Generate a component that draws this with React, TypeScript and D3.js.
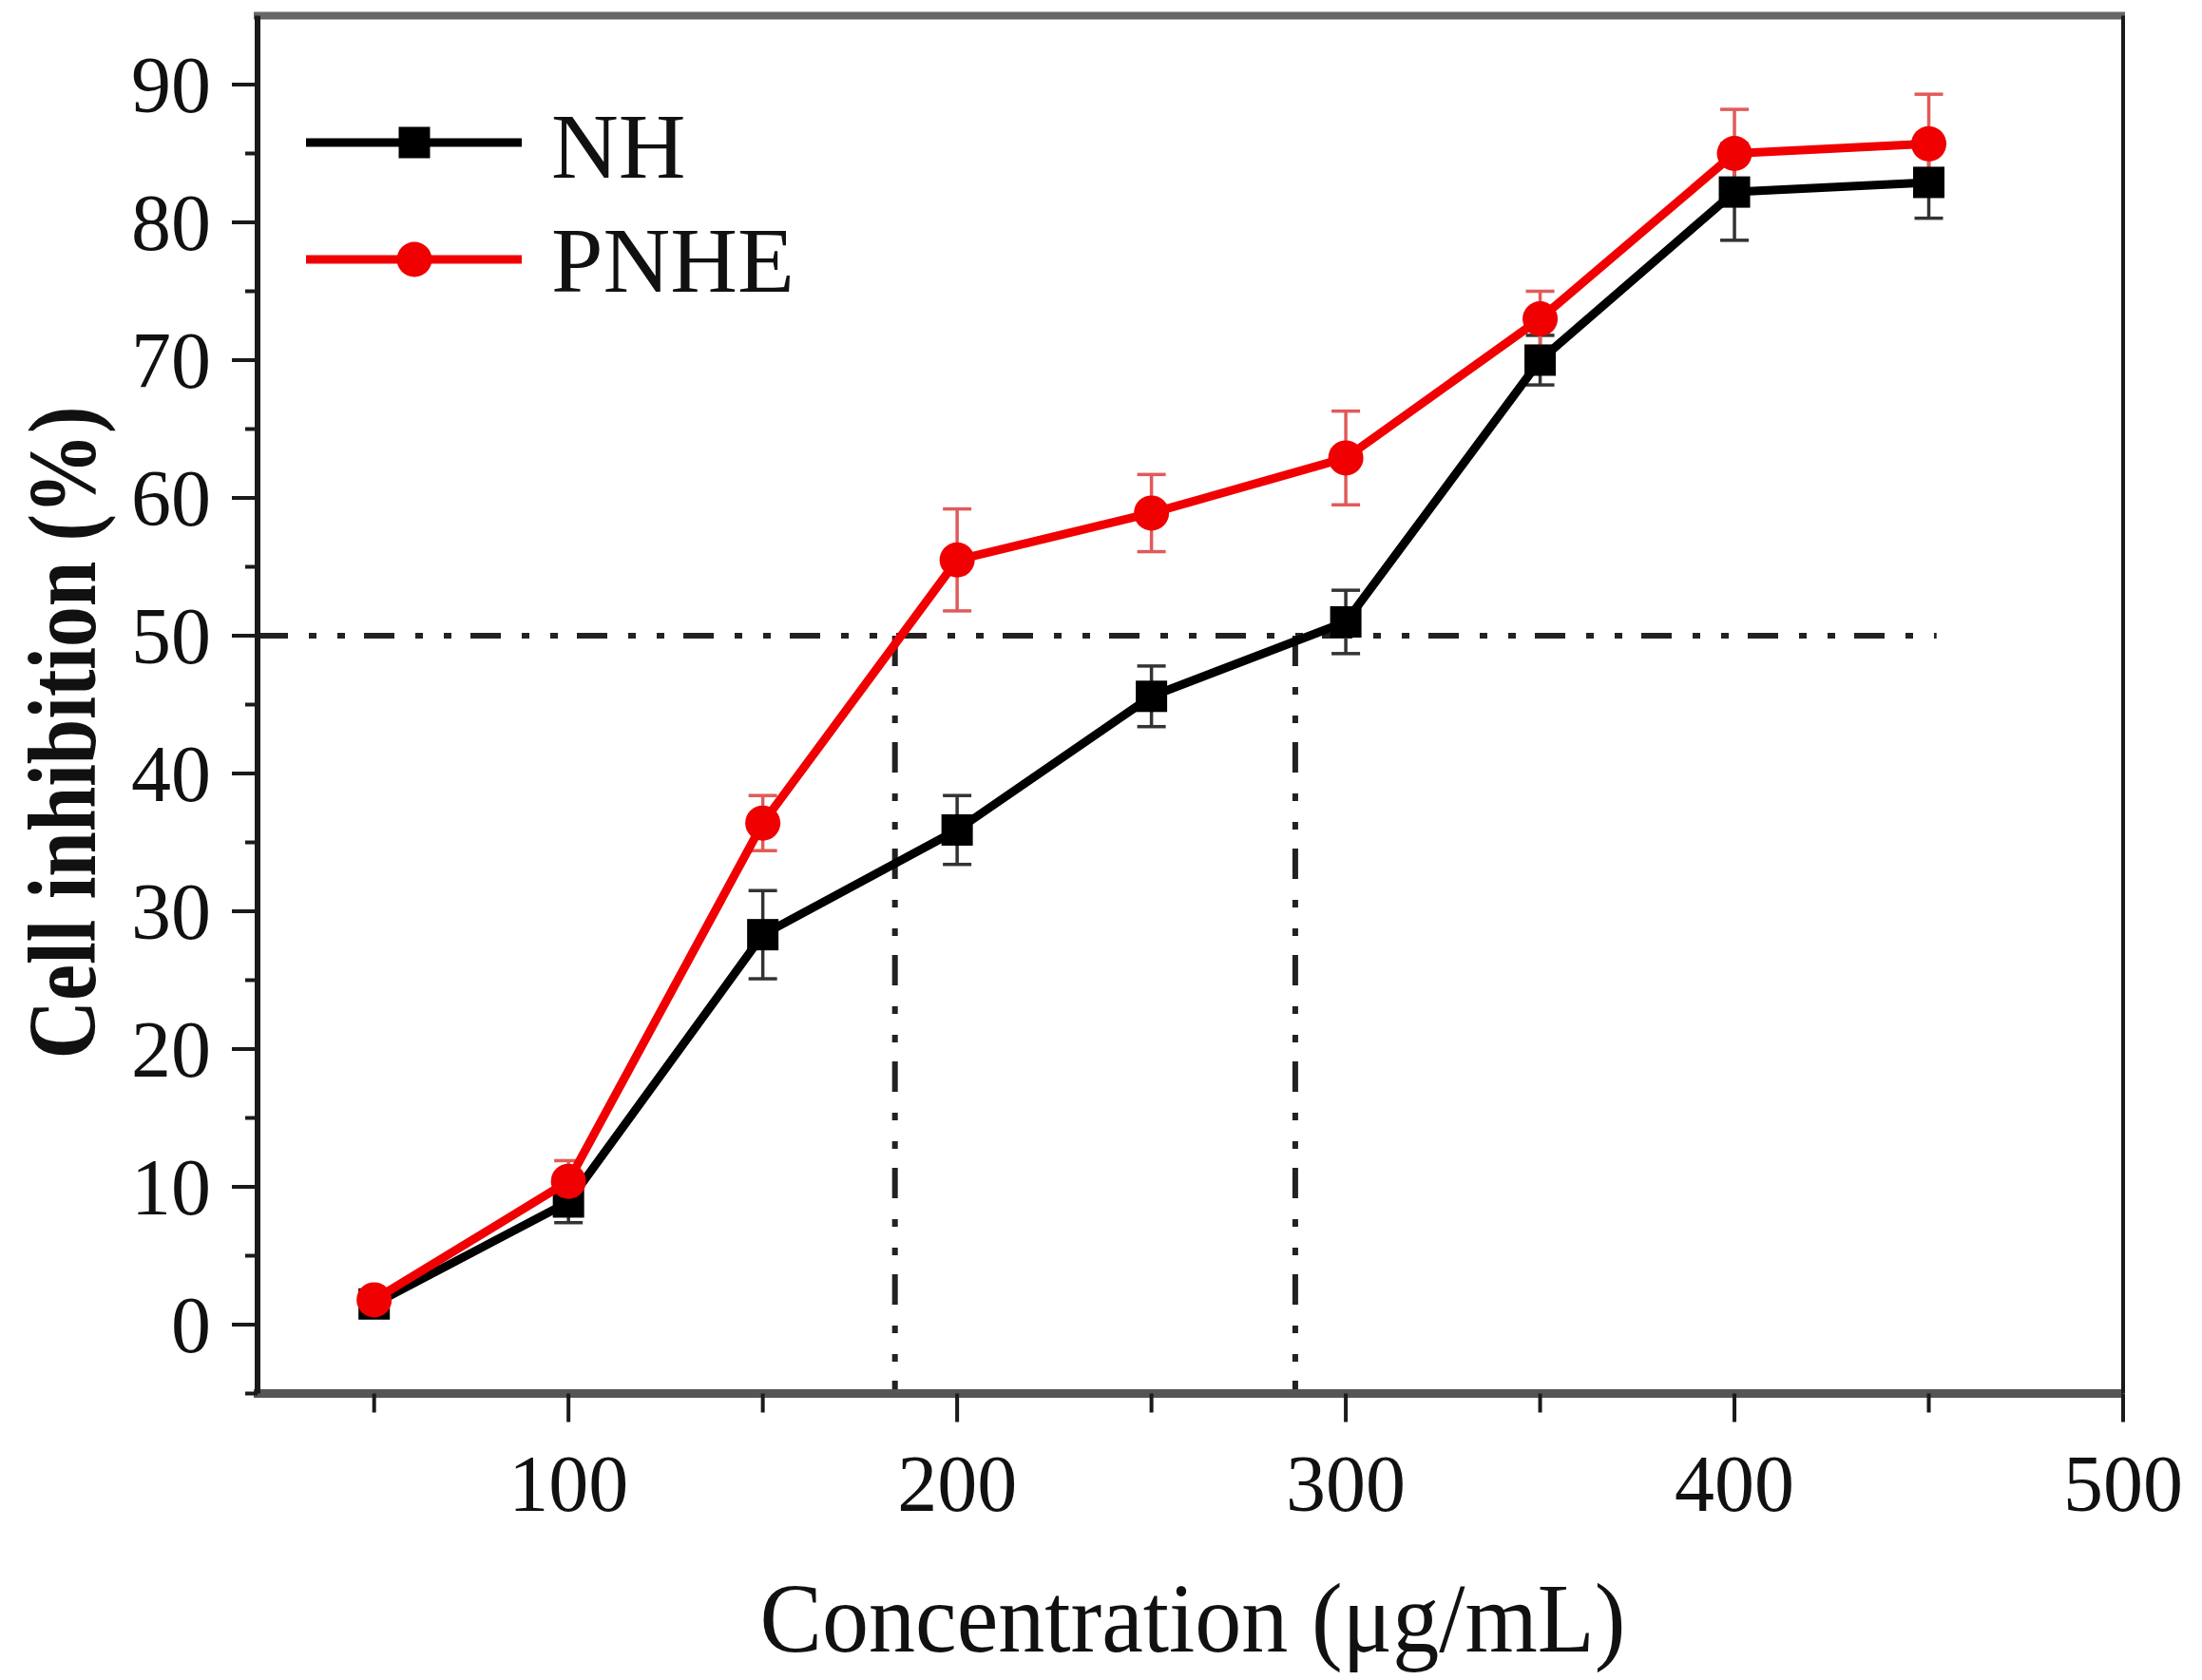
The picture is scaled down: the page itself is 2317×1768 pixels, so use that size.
import React from "react";
import * as d3 from "d3";

const concentrations = [50, 100, 150, 200, 250, 300, 350, 400, 450];
const nhValues = [1.5, 8.9, 28.3, 35.9, 45.6, 51.0, 70.0, 82.2, 82.9];
const nhErrors = [0.6, 1.5, 3.2, 2.5, 2.2, 2.3, 1.8, 3.5, 2.6];
const pnheValues = [1.8, 10.4, 36.4, 55.5, 58.9, 62.9, 73.0, 85.0, 85.7];
const pnheErrors = [0.6, 1.5, 2.0, 3.7, 2.8, 3.4, 2.0, 3.2, 3.6];

const xMajorTicks = [100, 200, 300, 400, 500];
const xMinorTicks = [50, 150, 250, 350, 450];
const yMajorTicks = [0, 10, 20, 30, 40, 50, 60, 70, 80, 90];
const yMinorTicks = [-5, 5, 15, 25, 35, 45, 55, 65, 75, 85];

const refY = 50;
const refXEnd = 452;
const refXs = [184, 287];

const xTitle = "Concentration (\u03bcg/mL)";
const yTitle = "Cell inhibition (%)";
const seriesNames = ["NH", "PNHE"];

const W = 2317;
const H = 1768;
const FONT = "'Liberation Serif', 'Times New Roman', serif";

export default function App() {
  const x = d3.scaleLinear().domain([20, 500]).range([271, 2234]);
  const y = d3.scaleLinear().domain([-5, 95]).range([1466.5, 16.5]);
  const left = x.range()[0];
  const right = x.range()[1];
  const top = y.range()[1];
  const bottom = y.range()[0];

  const line = d3
    .line<number>()
    .x((_, i) => x(concentrations[i]))
    .y((v) => y(v));

  const dash = "32 22 8 22 8 20";
  const sq = 33;
  const cr = 18.5;
  const cap = 15;
  const lw = 9;

  const errBars = (vals: number[], errs: number[], color: string) =>
    vals.map((v, i) => {
      const cx = x(concentrations[i]);
      const y1 = y(v + errs[i]);
      const y2 = y(v - errs[i]);
      return (
        <g key={i} stroke={color} strokeWidth={3.5}>
          <line x1={cx} x2={cx} y1={y1} y2={y2} />
          <line x1={cx - cap} x2={cx + cap} y1={y1} y2={y1} />
          <line x1={cx - cap} x2={cx + cap} y1={y2} y2={y2} />
        </g>
      );
    });

  return (
    <svg
      width={W}
      height={H}
      style={{ position: "absolute", left: 0, top: 0, background: "#fff" }}
      fontFamily={FONT}
    >
      <rect x={0} y={0} width={W} height={H} fill="#fff" />

      {/* reference dash-dot-dot lines */}
      <g stroke="#222" strokeWidth={6} strokeDasharray={dash} fill="none">
        <line x1={left} x2={x(refXEnd)} y1={y(refY)} y2={y(refY)} />
        {refXs.map((rx) => (
          <line key={rx} x1={x(rx)} x2={x(rx)} y1={y(refY)} y2={bottom} />
        ))}
      </g>

      {/* error bars */}
      {errBars(nhValues, nhErrors, "#333")}
      {errBars(pnheValues, pnheErrors, "#e25a5a")}

      {/* NH series */}
      <path d={line(nhValues) || ""} fill="none" stroke="#000" strokeWidth={lw} strokeLinejoin="round" />
      {nhValues.map((v, i) => (
        <rect
          key={i}
          x={x(concentrations[i]) - sq / 2}
          y={y(v) - sq / 2}
          width={sq}
          height={sq}
          fill="#000"
        />
      ))}

      {/* PNHE series */}
      <path d={line(pnheValues) || ""} fill="none" stroke="#f00000" strokeWidth={lw} strokeLinejoin="round" />
      {pnheValues.map((v, i) => (
        <circle key={i} cx={x(concentrations[i])} cy={y(v)} r={cr} fill="#f00000" />
      ))}

      {/* axes frame */}
      <line x1={left - 4} x2={right + 2} y1={top} y2={top} stroke="#666" strokeWidth={8} />
      <line x1={left - 4} x2={right} y1={bottom} y2={bottom} stroke="#555" strokeWidth={9} />
      <line x1={left} x2={left} y1={top} y2={bottom} stroke="#1a1a1a" strokeWidth={6} />
      <line x1={right} x2={right} y1={top} y2={bottom} stroke="#1a1a1a" strokeWidth={4} />

      {/* x ticks */}
      {xMajorTicks.map((t) => (
        <g key={t}>
          <line x1={x(t)} x2={x(t)} y1={bottom} y2={bottom + 30} stroke="#1a1a1a" strokeWidth={4} />
          <text x={x(t)} y={1590} fontSize={84} textAnchor="middle" fill="#111">
            {t}
          </text>
        </g>
      ))}
      {xMinorTicks.map((t) => (
        <line key={t} x1={x(t)} x2={x(t)} y1={bottom} y2={bottom + 20} stroke="#1a1a1a" strokeWidth={4} />
      ))}

      {/* y ticks */}
      {yMajorTicks.map((t) => (
        <g key={t}>
          <line x1={left - 27} x2={left} y1={y(t)} y2={y(t)} stroke="#1a1a1a" strokeWidth={4} />
          <text x={222} y={y(t)} dy="0.35em" fontSize={84} textAnchor="end" fill="#111">
            {t}
          </text>
        </g>
      ))}
      {yMinorTicks.map((t) => (
        <line key={t} x1={left - 13} x2={left} y1={y(t)} y2={y(t)} stroke="#1a1a1a" strokeWidth={4} />
      ))}

      {/* axis titles */}
      <text
        x={1255}
        y={1738}
        fontSize={104}
        textAnchor="middle"
        textLength={911}
        lengthAdjust="spacingAndGlyphs"
        fill="#111"
      >
        {xTitle}
      </text>
      <text
        transform={`translate(100, 771) rotate(-90)`}
        fontSize={102}
        fontWeight="bold"
        textAnchor="middle"
        textLength={687}
        lengthAdjust="spacingAndGlyphs"
        fill="#111"
      >
        {yTitle}
      </text>

      {/* legend */}
      <g>
        <line x1={322} x2={549} y1={150} y2={150} stroke="#000" strokeWidth={lw} />
        <rect x={436 - sq / 2} y={150 - sq / 2} width={sq} height={sq} fill="#000" />
        <text x={580} y={187} fontSize={98} fill="#111">
          {seriesNames[0]}
        </text>
        <line x1={322} x2={549} y1={273} y2={273} stroke="#f00000" strokeWidth={lw} />
        <circle cx={436} cy={273} r={cr} fill="#f00000" />
        <text x={580} y={307} fontSize={98} fill="#111">
          {seriesNames[1]}
        </text>
      </g>
    </svg>
  );
}
